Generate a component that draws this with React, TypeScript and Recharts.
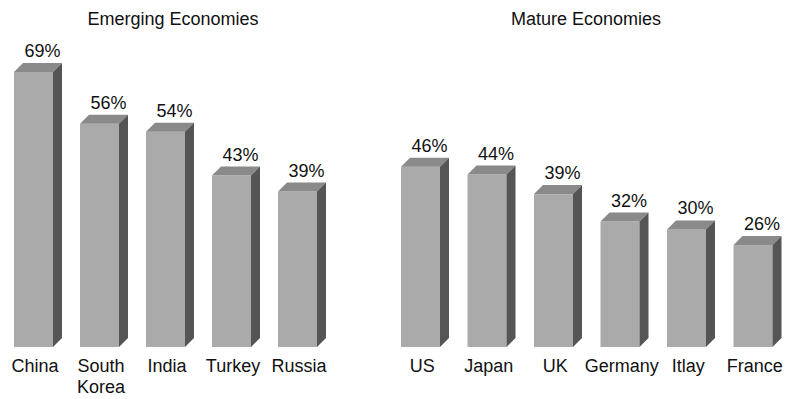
import { BarChart, Bar, XAxis, YAxis, LabelList } from "recharts";

const emergingCountries = ["China", "South Korea", "India", "Turkey", "Russia"];
const emergingShare = [69, 56, 54, 43, 39];

const matureCountries = ["US", "Japan", "UK", "Germany", "Itlay", "France"];
const matureShare = [46, 44, 39, 32, 30, 26];

const FONT = "'Liberation Sans', Arial, Helvetica, sans-serif";
const FRONT = "#aaaaaa";
const TOP = "#8a8a8a";
const SIDE = "#555555";
const DEPTH = 9;

const emergingData = emergingCountries.map((name, i) => ({ name, value: emergingShare[i] }));
const matureData = matureCountries.map((name, i) => ({ name, value: matureShare[i] }));

// 3D box: front face, lighter top, dark right side
function Box3D(props: any) {
  const { x, y, width, height } = props;
  if (height == null || height <= 0) return null;
  const d = DEPTH;
  const top = `${x},${y} ${x + d},${y - d} ${x + width + d},${y - d} ${x + width},${y}`;
  const side = `${x + width},${y} ${x + width + d},${y - d} ${x + width + d},${y + height - d} ${x + width},${y + height}`;
  return (
    <g>
      <rect x={x} y={y} width={width} height={height} fill={FRONT} />
      <polygon points={top} fill={TOP} />
      <polygon points={side} fill={SIDE} />
    </g>
  );
}

function ValueLabel(props: any) {
  const { x, y, width, value } = props;
  return (
    <text x={x + width / 2 + 9} y={y - 15} textAnchor="middle" fontSize={18} fill="#111" fontFamily={FONT}>
      {value}%
    </text>
  );
}

function CountryTick(props: any) {
  const { x, y, payload } = props;
  const lines = String(payload.value).split(" ");
  return (
    <text x={x + 2} y={y} textAnchor="middle" fontSize={18} fill="#111" fontFamily={FONT}>
      {lines.map((l, i) => (
        <tspan key={i} x={x + 2} dy={i === 0 ? 17 : 21}>
          {l}
        </tspan>
      ))}
    </text>
  );
}

function Panel({ data, width, top, left, max }: any) {
  return (
    <div style={{ position: "absolute", left, top: 0 }}>
      <BarChart width={width} height={399} data={data} margin={{ top, right: 10, bottom: 0, left: 1 }} barCategoryGap={0}>
        <XAxis dataKey="name" axisLine={false} tickLine={false} height={52} interval={0} tick={<CountryTick />} />
        <YAxis hide domain={[0, max]} />
        <Bar dataKey="value" barSize={39} shape={<Box3D />} isAnimationActive={false}>
          <LabelList dataKey="value" content={<ValueLabel />} />
        </Bar>
      </BarChart>
    </div>
  );
}

export default function App() {
  return (
    <div style={{ position: "absolute", left: 0, top: 0, width: 802, height: 399, background: "#fff", fontFamily: FONT }}>
      <svg width={802} height={40} style={{ position: "absolute", left: 0, top: 0 }}>
        <text x={173} y={25} textAnchor="middle" fontSize={18} fill="#111" fontFamily={FONT}>
          Emerging Economies
        </text>
        <text x={586} y={25} textAnchor="middle" fontSize={18} fill="#111" fontFamily={FONT}>
          Mature Economies
        </text>
      </svg>
      <Panel data={emergingData} width={341} top={48} left={-1} max={75} />
      <Panel data={matureData} width={410} top={53} left={386} max={75} />
    </div>
  );
}
